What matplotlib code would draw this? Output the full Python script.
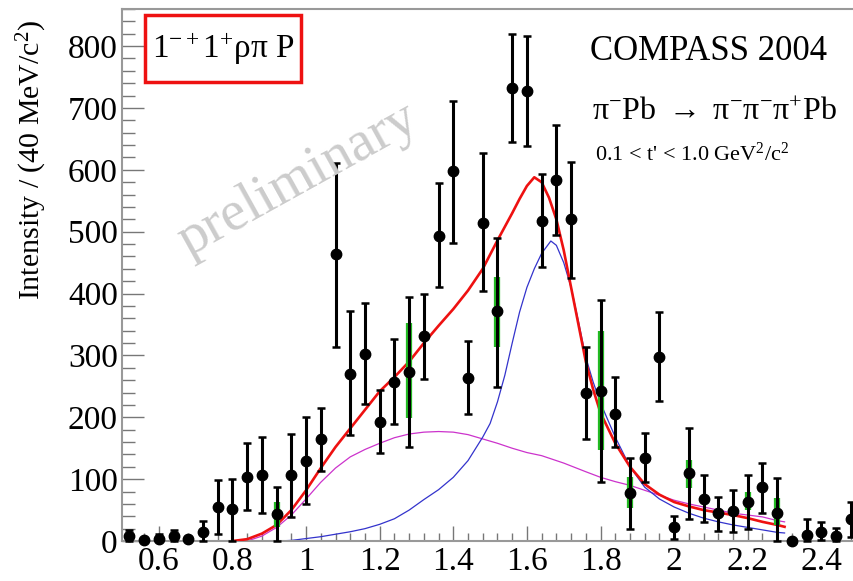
import matplotlib
matplotlib.use("Agg")
import matplotlib.pyplot as plt
from matplotlib.patches import Rectangle
from matplotlib.ticker import FixedLocator, MultipleLocator

plt.rcParams['font.family'] = ['Liberation Serif', 'DejaVu Serif']
plt.rcParams['mathtext.fontset'] = 'custom'
plt.rcParams['mathtext.rm'] = 'Liberation Serif'
plt.rcParams['mathtext.it'] = 'Liberation Serif:italic'

# data points (bin centres, 40 MeV bins)
mass = [0.52, 0.56, 0.60, 0.64, 0.68, 0.72, 0.76, 0.80, 0.84, 0.88,
        0.92, 0.96, 1.00, 1.04, 1.08, 1.12, 1.16, 1.20, 1.24, 1.28,
        1.32, 1.36, 1.40, 1.44, 1.48, 1.52, 1.56, 1.60, 1.64, 1.68,
        1.72, 1.76, 1.80, 1.84, 1.88, 1.92, 1.96, 2.00, 2.04, 2.08,
        2.12, 2.16, 2.20, 2.24, 2.28, 2.32, 2.36, 2.40, 2.44, 2.48]
intensity = [8, 2, 3, 8, 3, 15, 55, 52, 103, 107,
             44, 107, 129, 165, 464, 270, 302, 192, 257, 273,
             331, 493, 598, 263, 514, 372, 733, 727, 517, 584,
             520, 239, 243, 206, 77, 134, 297, 23, 110, 68,
             45, 49, 63, 87, 45, 0, 10, 14, 8, 36]
err_top = [18, 5, 12, 18, 6, 32, 98, 100, 158, 168,
           87, 173, 200, 215, 611, 372, 384, 244, 326, 394,
           400, 578, 712, 324, 628, 490, 820, 817, 594, 673,
           613, 314, 390, 265, 135, 175, 370, 40, 182, 107,
           71, 82, 107, 126, 102, 0, 35, 30, 21, 63]
err_bot = [0, 0, 0, 0, 0, 0, 11, 0, 50, 45,
           0, 39, 60, 113, 313, 171, 221, 142, 189, 152,
           262, 411, 481, 205, 404, 249, 645, 638, 443, 495,
           425, 165, 95, 152, 19, 96, 226, 3, 35, 30,
           17, 15, 19, 45, 0, 0, 0, 2, 0, 6]

# systematic bands (green)
sys_mass = [0.92, 1.28, 1.52, 1.80, 1.88, 2.04, 2.20, 2.28]
sys_lo = [23, 199, 313, 147, 53, 86, 50, 26]
sys_hi = [63, 352, 427, 340, 103, 131, 79, 70]

# fit curves
total_m = [0.80, 0.84, 0.88, 0.92, 0.96, 1.00, 1.04, 1.08, 1.12, 1.16,
           1.20, 1.24, 1.28, 1.32, 1.36, 1.40, 1.44, 1.48, 1.52, 1.56,
           1.58, 1.60, 1.62, 1.64, 1.66, 1.68, 1.70, 1.72, 1.74, 1.76,
           1.78, 1.80, 1.84, 1.88, 1.92, 1.96, 2.00, 2.04, 2.08, 2.12,
           2.16, 2.20, 2.24, 2.28, 2.30]
total_y = [0, 3, 12, 26, 50, 82, 118, 152, 182, 212,
           242, 265, 290, 320, 348, 375, 405, 440, 486, 530,
           553, 574, 588, 580, 555, 520, 470, 410, 350, 290,
           245, 207, 158, 120, 92, 75, 63, 56, 50, 46,
           42, 37, 31, 26, 23]

res_m = [0.92, 0.96, 1.00, 1.04, 1.08, 1.12, 1.16, 1.20, 1.24, 1.28,
         1.32, 1.36, 1.40, 1.44, 1.48, 1.50, 1.52, 1.54, 1.56, 1.58,
         1.60, 1.62, 1.64, 1.665, 1.68, 1.70, 1.72, 1.74, 1.76, 1.78,
         1.80, 1.84, 1.88, 1.92, 1.96, 2.00, 2.04, 2.08, 2.12, 2.16,
         2.20, 2.24, 2.28, 2.30]
res_y = [0, 1, 4, 7, 11, 15, 20, 27, 36, 50,
         67, 83, 103, 130, 168, 190, 225, 268, 320, 370,
         410, 440, 465, 485, 478, 450, 410, 355, 297, 257,
         223, 168, 120, 87, 68, 55, 45, 37, 31, 26,
         22, 18, 14, 13]

bkg_m = [0.84, 0.88, 0.92, 0.96, 1.00, 1.04, 1.08, 1.12, 1.16, 1.20,
         1.24, 1.28, 1.32, 1.36, 1.40, 1.44, 1.48, 1.52, 1.56, 1.60,
         1.64, 1.70, 1.76, 1.80, 1.84, 1.88, 1.92, 1.96, 2.00, 2.04,
         2.08, 2.12, 2.16, 2.20, 2.24, 2.28, 2.30]
bkg_y = [0, 8, 22, 42, 68, 95, 118, 136, 148, 158,
         167, 173, 176, 177, 176, 172, 165, 158, 150, 143,
         138, 126, 112, 103, 96, 90, 82, 74, 66, 60,
         55, 50, 45, 42, 39, 33, 31]

fig = plt.figure(figsize=(8.54, 5.81), dpi=100)
ax = fig.add_axes([0.1429, 0.0688, 0.862, 0.9157])

W, H = 854.0, 581.0
fig.text(298 / W, 1 - 180 / H, "preliminary", fontsize=41, color='#cccccc',
         rotation=29, ha='center', va='center')

ax.plot(bkg_m, bkg_y, color='#cc33cc', lw=0.9, zorder=2)
ax.plot(res_m, res_y, color='#3333cc', lw=0.9, zorder=2)
ax.plot(total_m, total_y, color='#ee1111', lw=1.9, zorder=3)

ax.vlines(sys_mass, sys_lo, sys_hi, colors='#22bb22', lw=4.5, zorder=4)

lo = [y - b for y, b in zip(intensity, err_bot)]
hi = [t - y for y, t in zip(intensity, err_top)]
ax.errorbar(mass, intensity, yerr=[lo, hi], fmt='o', color='black', ms=7.5,
            elinewidth=2.2, capsize=3, capthick=1.8, zorder=5, clip_on=False)

ax.set_xlim(0.5, 2.5)
ax.set_ylim(0, 860)

xt = [0.6, 0.8, 1.0, 1.2, 1.4, 1.6, 1.8, 2.0, 2.2, 2.4]
xt_labels = ['0.6', '0.8', '1', '1.2', '1.4', '1.6', '1.8', '2', '2.2', '2.4']
ax.xaxis.set_major_locator(FixedLocator(xt))
ax.set_xticklabels(xt_labels)
ax.xaxis.set_minor_locator(MultipleLocator(0.04))
ax.yaxis.set_major_locator(MultipleLocator(100))
ax.yaxis.set_minor_locator(MultipleLocator(20))

ax.tick_params(axis='x', which='major', direction='in', length=11, width=1,
               color='#777777', labelsize=24, pad=4, top=False)
ax.tick_params(axis='x', which='minor', direction='in', length=6, width=1,
               color='#777777', top=False)
ax.tick_params(axis='y', which='major', direction='in', length=16, width=1,
               color='#777777', labelsize=24, pad=3, right=False)
ax.tick_params(axis='y', which='minor', direction='in', length=9, width=1,
               color='#777777', right=False)
for s in ax.spines.values():
    s.set_color('#999999')
    s.set_linewidth(1.5)

fig.text(32 / W, 1 - 160 / H, "Intensity / (40 MeV/c$^{2}$)", fontsize=21.5,
         rotation=90, ha='center', va='center')

fig.patches.append(Rectangle((145 / W, 1 - 82 / H), 156 / W, 67 / H,
                             transform=fig.transFigure, fill=False,
                             edgecolor='#ee1111', lw=2.5))
fig.text(223 / W, 1 - 49 / H, "1$^{-+}$1$^{+}$ρπ P", fontsize=24,
         ha='center', va='center')

fig.text(590 / W, 1 - 51 / H, "COMPASS 2004", fontsize=25, ha='left', va='center')
fig.text(592 / W, 1 - 112 / H, r"π$^{-}$Pb $\rightarrow$ π$^{-}$π$^{-}$π$^{+}$Pb",
         fontsize=23, ha='left', va='center')
fig.text(595 / W, 1 - 154 / H, "0.1 < t' < 1.0 GeV$^{2}$/c$^{2}$", fontsize=16,
         ha='left', va='center')

fig.savefig("out.png", dpi=100)
